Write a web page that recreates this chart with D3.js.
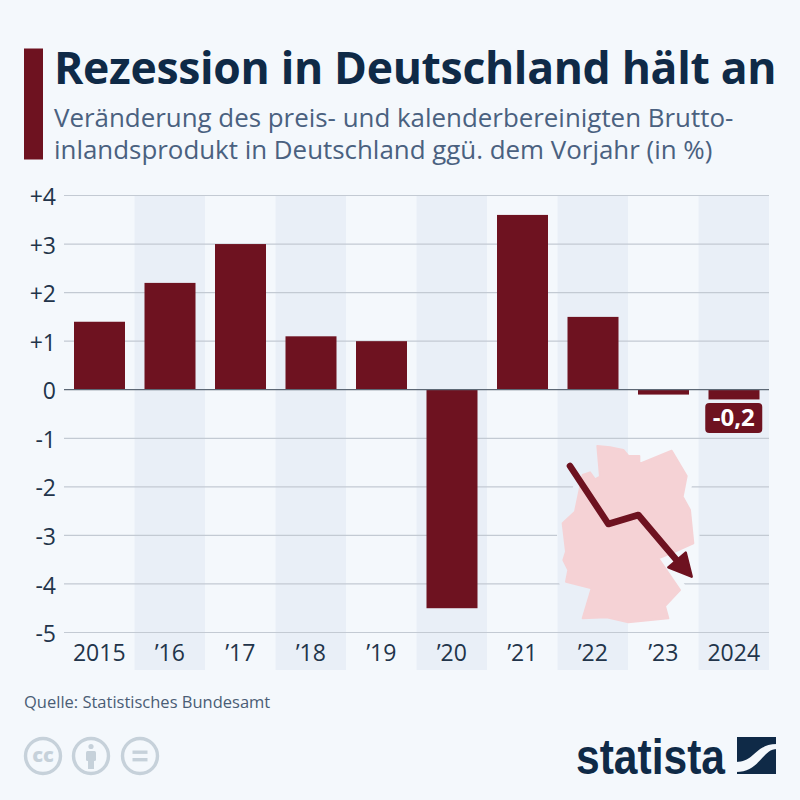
<!DOCTYPE html>
<html><head><meta charset="utf-8">
<script src="https://cdn.jsdelivr.net/npm/d3@7/dist/d3.min.js"></script>
<style>html,body{margin:0;padding:0;background:#f4f8fc}svg{display:block}text{font-family:"Open Sans",sans-serif}</style>
</head><body><svg id="c" width="800" height="800"></svg>
<script>
const categories=["2015","’16","’17","’18","’19","’20","’21","’22","’23","2024"];
const values=[1.4,2.2,3.0,1.1,1.0,-4.5,3.6,1.5,-0.1,-0.2];
const yTicks=[4,3,2,1,0,-1,-2,-3,-4,-5];
const yLabels=["+4","+3","+2","+1","0","-1","-2","-3","-4","-5"];
const titleText="Rezession in Deutschland hält an";
const subtitleLines=["Veränderung des preis- und kalenderbereinigten Brutto-","inlandsprodukt in Deutschland ggü. dem Vorjahr (in %)"];
const sourceText="Quelle: Statistisches Bundesamt";
const calloutText="-0,2";
// decorative illustration outlines, in zoomed crop coordinates
const mapOutline=[[172,228],[210,232],[250,240],[265,258],[298,258],[298,282],[395,242],[440,318],[428,380],[450,420],[460,520],[405,545],[355,565],[420,660],[375,708],[385,745],[265,757],[200,742],[128,745],[155,655],[78,635],[85,600],[70,570],[78,545],[68,460],[105,425],[128,315],[150,307],[165,328],[180,320]];
const arrowLine=[[90,288],[205,462],[295,435],[418,580]];
const arrowHead=[[385,592],[437,548],[455,620]];

const svg=d3.select("#c");
const col={bg:"#f4f8fc",band:"#e9eff7",red:"#6e1220",navy:"#0f2a47",sub:"#4a6180",tick:"#22344a",grid:"#c3cad3"};
svg.append("rect").attr("width",800).attr("height",800).attr("fill",col.bg);

const x=d3.scaleBand().domain(categories).range([64,769]).paddingInner(0).paddingOuter(0);
const y=d3.scaleLinear().domain([4,-5]).range([195.5,632.5]);
const illus=p=>[540+p[0]/3,370+p[1]/3];
const closed=d3.line().curve(d3.curveLinearClosed);

// header
svg.append("rect").attr("x",24).attr("y",48.5).attr("width",19).attr("height",111).attr("fill",col.red);
svg.append("text").attr("x",54).attr("y",84).attr("font-size",44.5).attr("font-weight",700).attr("letter-spacing",-0.32).attr("fill",col.navy).text(titleText);
svg.append("text").attr("font-size",25.9).attr("fill",col.sub).selectAll("tspan").data(subtitleLines).join("tspan").attr("x",54).attr("y",(d,i)=>127+i*32).text(d=>d);

// bands
svg.selectAll(".band").data(categories.filter((d,i)=>i%2==1)).join("rect").attr("x",d=>x(d)).attr("y",y(4)).attr("width",x.bandwidth()).attr("height",670-y(4)).attr("fill",col.band);

// mask keeps grid lines clear of the map
const mask=svg.append("defs").append("mask").attr("id","m").attr("maskUnits","userSpaceOnUse").attr("x",0).attr("y",0).attr("width",800).attr("height",800);
mask.append("rect").attr("width",800).attr("height",800).attr("fill","#fff");
mask.append("path").attr("d",closed(mapOutline.map(illus))).attr("fill","#000").attr("stroke","#000").attr("stroke-width",14).attr("stroke-linejoin","round");

// y axis + grid
const yAxis=d3.axisLeft(y).tickValues(yTicks).tickFormat((d,i)=>yLabels[i]).tickSize(0).tickPadding(0);
const gy=svg.append("g").attr("transform","translate(56,1)").call(yAxis);
gy.select(".domain").remove();
gy.selectAll("text").attr("font-size",23).attr("fill",col.tick).style("font-family",'"Open Sans",sans-serif').attr("dy","0.35em");
svg.append("g").attr("mask","url(#m)").selectAll("line").data(yTicks.filter(d=>d!==0)).join("line").attr("x1",64).attr("x2",769).attr("y1",d=>y(d)).attr("y2",d=>y(d)).attr("stroke",col.grid).attr("stroke-width",1.2);

// map
svg.append("path").attr("d",closed(mapOutline.map(illus))).attr("fill","#f5d2d5").attr("stroke","#f5d2d5").attr("stroke-width",2).attr("stroke-linejoin","round");

// bars
const barInset=10;
svg.selectAll(".bar").data(values).join("rect").attr("x",(d,i)=>x(categories[i])+barInset).attr("width",x.bandwidth()-barInset*2+.5)
 .attr("y",d=>y(Math.max(d,0))).attr("height",d=>Math.abs(y(d)-y(0))).attr("fill",col.red);
svg.append("line").attr("x1",64).attr("x2",769).attr("y1",y(0)).attr("y2",y(0)).attr("stroke","#5d6875").attr("stroke-width",1.3);

// arrow
svg.append("path").attr("d",d3.line().curve(d3.curveLinear)(arrowLine.map(illus))).attr("fill","none").attr("stroke",col.red).attr("stroke-width",6.6).attr("stroke-linecap","round").attr("stroke-linejoin","round");
svg.append("path").attr("d",closed(arrowHead.map(illus))).attr("fill",col.red).attr("stroke",col.red).attr("stroke-width",2.5).attr("stroke-linejoin","round");

// callout
const cx=x("2024")+x.bandwidth()/2;
svg.append("rect").attr("x",cx-28.5).attr("y",y(-0.2)+3.5).attr("width",57).attr("height",30).attr("rx",4).attr("fill",col.red);
svg.append("text").attr("x",cx).attr("y",y(-0.2)+27).attr("text-anchor","middle").attr("font-size",24).attr("font-weight",700).attr("fill","#fff").text(calloutText);

// x axis
const xAxis=d3.axisBottom(x).tickSize(0).tickPadding(0);
const gx=svg.append("g").attr("transform","translate(0,653)").call(xAxis);
gx.select(".domain").remove();
gx.selectAll("text").attr("font-size",23).attr("fill",col.tick).attr("y",0).attr("dy","0.35em").style("font-family",'"Open Sans",sans-serif');

// source
svg.append("text").attr("x",24).attr("y",708).attr("font-size",16.5).attr("fill","#4a5d75").text(sourceText);

// licence icons
const ic="#c6d1da";
[43,91,140].forEach((c,i)=>{
 svg.append("circle").attr("cx",c).attr("cy",756).attr("r",17.5).attr("fill","none").attr("stroke",ic).attr("stroke-width",3.4);
});
svg.append("text").attr("x",43).attr("y",762).attr("text-anchor","middle").attr("font-size",20).attr("font-weight",800).attr("fill",ic).text("cc");
svg.append("circle").attr("cx",91).attr("cy",746.5).attr("r",2.6).attr("fill",ic);
svg.append("rect").attr("x",86).attr("y",751).attr("width",10).attr("height",10).attr("rx",1.5).attr("fill",ic);
svg.append("rect").attr("x",88).attr("y",758).attr("width",6).attr("height",11).attr("fill",ic);
svg.append("rect").attr("x",132.5).attr("y",750.5).attr("width",15).attr("height",3.4).attr("fill",ic);
svg.append("rect").attr("x",132.5).attr("y",758).attr("width",15).attr("height",3.4).attr("fill",ic);

// statista logo
svg.append("text").attr("x",576).attr("y",774).attr("font-size",50).attr("font-weight",700).attr("textLength",149).attr("lengthAdjust","spacingAndGlyphs").style("font-family",'"Liberation Sans Narrow","Liberation Sans",sans-serif').attr("fill",col.navy).text("statista");
svg.append("rect").attr("x",737).attr("y",737).attr("width",39).attr("height",37).attr("fill",col.navy);
svg.append("path").attr("d","M736,762 C755,762 755,744 777,744 L777,749 C762,749 760,772 736,772 Z").attr("fill",col.bg);
</script></body></html>
